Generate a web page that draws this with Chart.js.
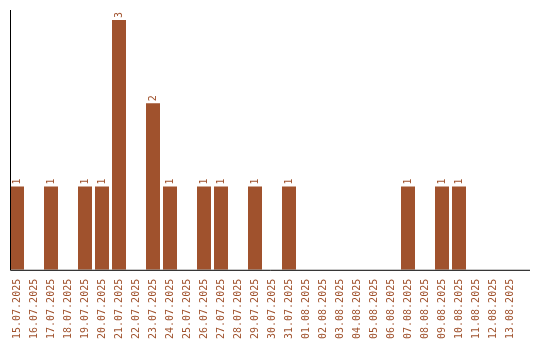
<!DOCTYPE html>
<html>
<head>
<meta charset="utf-8">
<script src="https://cdn.jsdelivr.net/npm/chart.js@4"></script>
<style>
  body { margin: 0; background: #fff; }
  #wrap { width: 540px; height: 340px; }
</style>
</head>
<body>
<div id="wrap"><canvas id="dayChart"></canvas></div>
<script>
const days = [
  "15.07.2025", "16.07.2025", "17.07.2025", "18.07.2025", "19.07.2025",
  "20.07.2025", "21.07.2025", "22.07.2025", "23.07.2025", "24.07.2025",
  "25.07.2025", "26.07.2025", "27.07.2025", "28.07.2025", "29.07.2025",
  "30.07.2025", "31.07.2025", "01.08.2025", "02.08.2025", "03.08.2025",
  "04.08.2025", "05.08.2025", "06.08.2025", "07.08.2025", "08.08.2025",
  "09.08.2025", "10.08.2025", "11.08.2025", "12.08.2025", "13.08.2025"
];
const counts = [
  1, 0, 1, 0, 1,
  1, 3, 0, 2, 1,
  0, 1, 1, 0, 1,
  0, 1, 0, 0, 0,
  0, 0, 0, 1, 0,
  1, 1, 0, 0, 0
];
const barColor = "#a0522d";
const yMax = 3.12;

// value labels above the bars, rotated to read upwards
const valueLabels = {
  id: "valueLabels",
  afterDatasetsDraw(chart) {
    const ctx = chart.ctx;
    const meta = chart.getDatasetMeta(0);
    ctx.save();
    ctx.fillStyle = barColor;
    ctx.font = "10px 'DejaVu Sans Mono'";
    ctx.textAlign = "left";
    ctx.textBaseline = "middle";
    meta.data.forEach((bar, i) => {
      if (!counts[i]) return;
      ctx.save();
      ctx.translate(bar.x, bar.y - 2);
      ctx.rotate(-Math.PI / 2);
      ctx.fillText(String(counts[i]), 0, 0);
      ctx.restore();
    });
    ctx.restore();
  }
};

// axis lines, the bottom one runs a bit past the last category
const axisLines = {
  id: "axisLines",
  afterDraw(chart) {
    const ctx = chart.ctx;
    const a = chart.chartArea;
    ctx.save();
    ctx.strokeStyle = "#000";
    ctx.lineWidth = 1;
    ctx.beginPath();
    ctx.moveTo(10.5, a.top);
    ctx.lineTo(10.5, a.bottom + 0.5);
    ctx.lineTo(530, a.bottom + 0.5);
    ctx.stroke();
    ctx.restore();
  }
};

new Chart(document.getElementById("dayChart"), {
  type: "bar",
  data: {
    labels: days,
    datasets: [{
      data: counts,
      backgroundColor: barColor,
      barPercentage: 14 / 17,
      categoryPercentage: 1
    }]
  },
  options: {
    responsive: true,
    maintainAspectRatio: false,
    animation: false,
    layout: { padding: { left: 8.5, right: 21.5, top: 10, bottom: 0 } },
    plugins: {
      legend: { display: false },
      tooltip: { enabled: false }
    },
    scales: {
      x: {
        grid: { display: false },
        border: { display: false },
        ticks: {
          color: barColor,
          font: { family: "'DejaVu Sans Mono'", size: 10 },
          minRotation: 90,
          maxRotation: 90,
          autoSkip: false,
          padding: 1
        }
      },
      y: {
        display: false,
        min: 0,
        max: yMax
      }
    }
  },
  plugins: [valueLabels, axisLines]
});
</script>
</body>
</html>
